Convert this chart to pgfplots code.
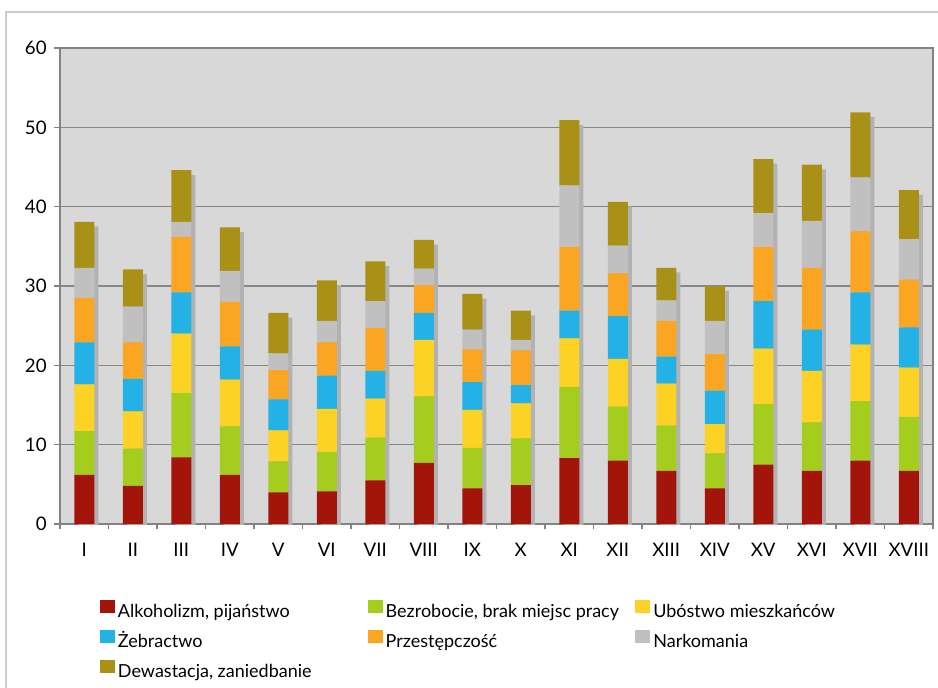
\documentclass[border=0pt]{standalone}
\usepackage{pgfplots}
\usepackage{pgfplotstable}
\pgfplotsset{compat=1.18}
\usepackage{fontspec}
\setmainfont{Lato}
\definecolor{cA}{RGB}{163,21,10}
\definecolor{cB}{RGB}{164,205,30}
\definecolor{cC}{RGB}{252,211,36}
\definecolor{cD}{RGB}{36,178,230}
\definecolor{cE}{RGB}{250,166,35}
\definecolor{cF}{RGB}{192,192,192}
\definecolor{cG}{RGB}{169,144,22}
\definecolor{bg}{RGB}{216,216,216}
\definecolor{gridc}{RGB}{135,135,135}
\definecolor{axc}{RGB}{130,130,130}
\definecolor{shadow}{RGB}{178,178,178}
\definecolor{frame}{RGB}{205,205,205}

\pgfplotstableread{
x A B C D E F G T
0 6.2 5.5 5.9 5.3 5.6 3.8 5.8 38.1
1 4.8 4.7 4.7 4.1 4.6 4.5 4.7 32.1
2 8.4 8.1 7.5 5.2 7.0 1.9 6.5 44.6
3 6.2 6.1 5.9 4.2 5.6 3.9 5.5 37.4
4 4.0 3.9 3.9 3.9 3.7 2.1 5.1 26.6
5 4.1 5.0 5.4 4.2 4.2 2.7 5.1 30.7
6 5.5 5.4 4.9 3.5 5.4 3.4 5.0 33.1
7 7.7 8.4 7.1 3.4 3.5 2.1 3.6 35.8
8 4.5 5.1 4.8 3.5 4.1 2.5 4.5 29.0
9 4.9 5.9 4.4 2.3 4.4 1.3 3.7 26.9
10 8.3 9.0 6.1 3.5 8.0 7.8 8.2 50.9
11 8.0 6.8 6.0 5.4 5.4 3.5 5.5 40.6
12 6.7 5.7 5.3 3.4 4.5 2.6 4.1 32.3
13 4.5 4.4 3.7 4.2 4.6 4.2 4.4 30.0
14 7.5 7.6 7.0 6.0 6.8 4.3 6.8 46.0
15 6.7 6.1 6.5 5.2 7.8 5.9 7.1 45.3
16 8.0 7.5 7.1 6.6 7.7 6.8 8.2 51.9
17 6.7 6.8 6.2 5.1 6.0 5.1 6.2 42.1
}\data

\pgfplotsset{
  common/.style={
    width=654.75pt, height=357pt, scale only axis,
    at={(0,0)}, anchor=south west,
    xmin=-0.5, xmax=17.5, ymin=0, ymax=60,
  },
}

\begin{document}
\begin{tikzpicture}[x=0.75pt,y=0.75pt]
\useasboundingbox (-60,-163) rectangle (878,524);
\draw[frame, line width=0.9pt] (-54,-200) -- (-54,512) -- (900,512);

\begin{axis}[common,
  axis background/.style={fill=bg},
  ytick={0,10,...,60},
  xtick={0,...,17},
  xticklabels={I,II,III,IV,V,VI,VII,VIII,IX,X,XI,XII,XIII,XIV,XV,XVI,XVII,XVIII},
  minor xtick={-0.5,0.5,...,17.5},
  major x tick style={draw=none},
  tick align=outside,
  xtick pos=bottom, ytick pos=left,
  major tick length=4.5pt, minor tick length=4pt,
  tick style={axc, line width=0.8pt},
  axis line style={axc, line width=1pt},
  ymajorgrids,
  grid style={gridc, line width=0.8pt},
  ticklabel style={font=\fontsize{14}{16}\selectfont},
  /pgf/number format/assume math mode=true,
  yticklabel style={xshift=-2pt},
  xticklabel style={yshift=-6pt},
  ybar, bar width=15pt, bar shift=0pt,
]
\addplot[fill=shadow, draw=none, xshift=3pt, yshift=-3.5pt] table[x=x, y=T] {\data};
\end{axis}

\begin{axis}[common,
  hide axis,
  ybar stacked, bar width=15pt,
  legend columns=3,
  legend cell align=left,
  legend style={at={(0.0458,-0.159)}, anchor=north west, draw=none, fill=none,
    inner sep=0pt, outer sep=0pt,
    font=\fontsize{13.5}{16}\selectfont,
    /tikz/every even column/.append style={column sep=0pt},
    /tikz/every odd column/.append style={column sep=0pt},
    row sep=6.5pt,
    nodes={inner xsep=2.25pt, inner ysep=0pt, text height=9.5pt, text depth=3pt}},
]
\addplot[fill=cA, draw=none, legend image code/.code={\fill[cA] (0pt,0pt) rectangle (11.25pt,9.75pt);}] table[x=x, y=A] {\data};
\addlegendentry{\makebox[185pt][l]{Alkoholizm, pijaństwo}}
\addplot[fill=cB, draw=none, legend image code/.code={\fill[cB] (0pt,0pt) rectangle (11.25pt,9.75pt);}] table[x=x, y=B] {\data};
\addlegendentry{\makebox[185pt][l]{Bezrobocie, brak miejsc pracy}}
\addplot[fill=cC, draw=none, legend image code/.code={\fill[cC] (0pt,0pt) rectangle (11.25pt,9.75pt);}] table[x=x, y=C] {\data};
\addlegendentry{\makebox[185pt][l]{Ubóstwo mieszkańców}}
\addplot[fill=cD, draw=none, legend image code/.code={\fill[cD] (0pt,0pt) rectangle (11.25pt,9.75pt);}] table[x=x, y=D] {\data};
\addlegendentry{\makebox[185pt][l]{Żebractwo}}
\addplot[fill=cE, draw=none, legend image code/.code={\fill[cE] (0pt,0pt) rectangle (11.25pt,9.75pt);}] table[x=x, y=E] {\data};
\addlegendentry{\makebox[185pt][l]{Przestępczość}}
\addplot[fill=cF, draw=none, legend image code/.code={\fill[cF] (0pt,0pt) rectangle (11.25pt,9.75pt);}] table[x=x, y=F] {\data};
\addlegendentry{\makebox[185pt][l]{Narkomania}}
\addplot[fill=cG, draw=none, legend image code/.code={\fill[cG] (0pt,0pt) rectangle (11.25pt,9.75pt);}] table[x=x, y=G] {\data};
\addlegendentry{\makebox[185pt][l]{Dewastacja, zaniedbanie}}
\end{axis}
\end{tikzpicture}
\end{document}
